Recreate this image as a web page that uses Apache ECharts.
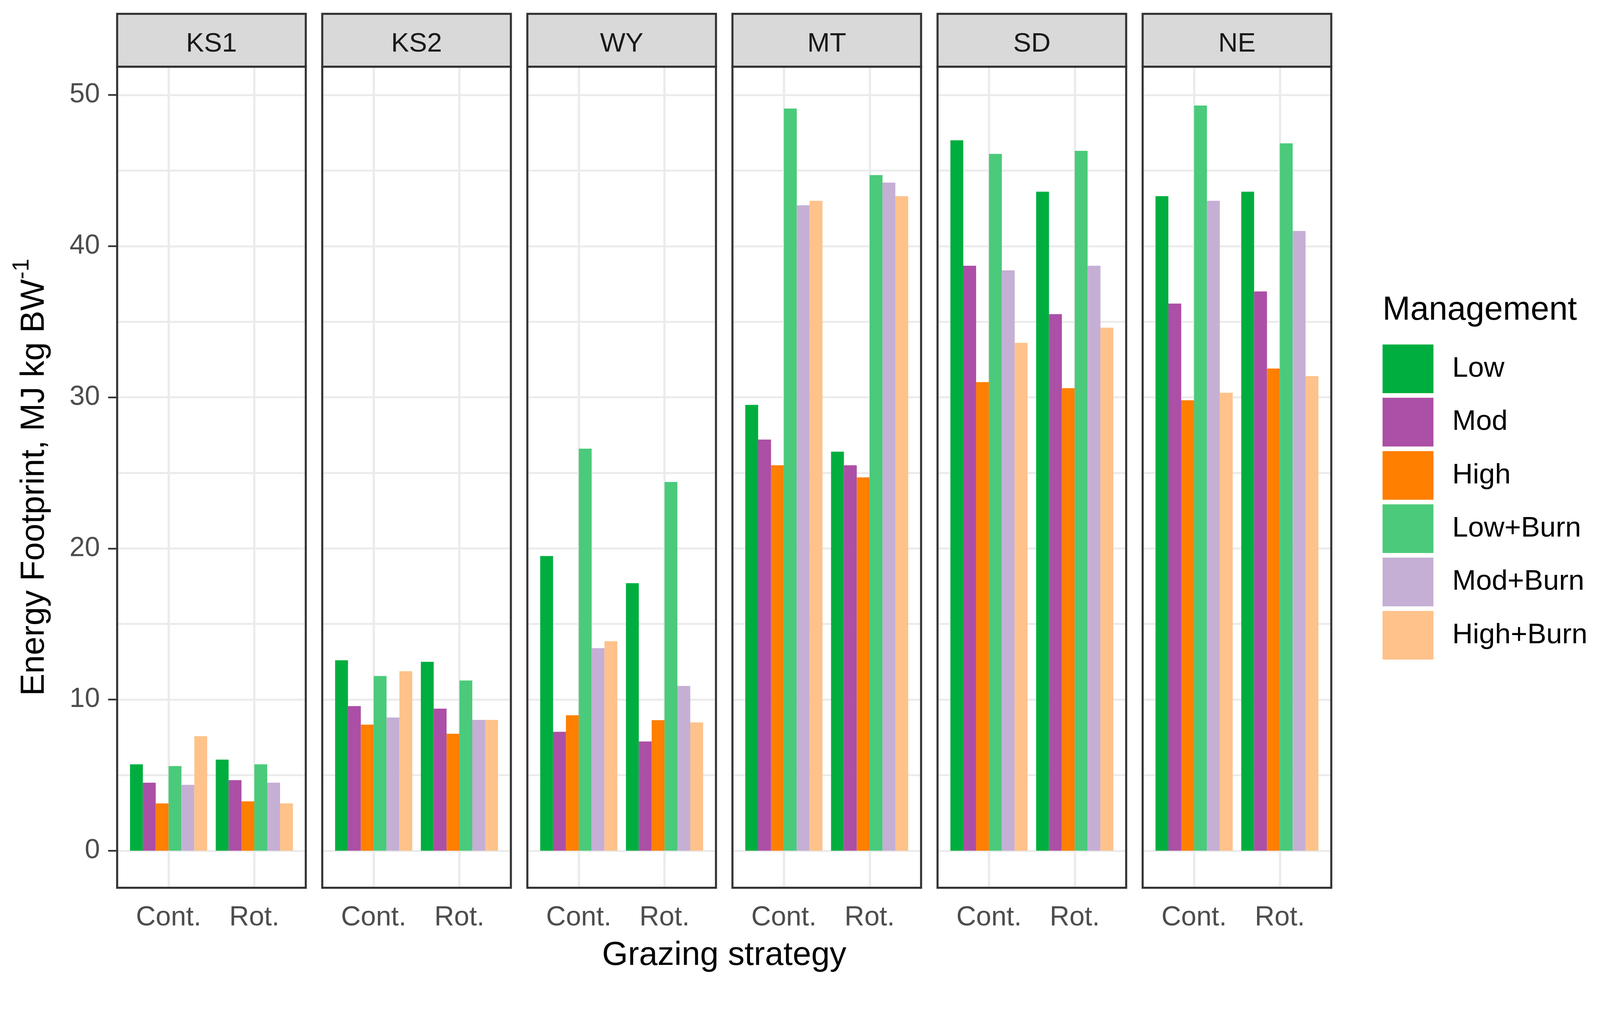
<!DOCTYPE html>
<html><head><meta charset="utf-8">
<script src="https://cdn.jsdelivr.net/npm/echarts@6/dist/echarts.min.js"></script>
<style>html,body{margin:0;padding:0;background:#fff;overflow:hidden}#c{width:100vw;height:100vh}</style>
</head><body><div id="c"></div>
<script>
// ---- data ----
const sites = ['KS1', 'KS2', 'WY', 'MT', 'SD', 'NE'];
const strategies = ['Cont.', 'Rot.'];
const managements = ['Low', 'Mod', 'High', 'Low+Burn', 'Mod+Burn', 'High+Burn'];
// values ordered: KS1 Cont, KS1 Rot, KS2 Cont, KS2 Rot, WY Cont, WY Rot, MT Cont, MT Rot, SD Cont, SD Rot, NE Cont, NE Rot
const lowValues      = [5.72, 6.03, 12.6, 12.5, 19.5, 17.7, 29.5, 26.4, 47.0, 43.6, 43.3, 43.6];
const modValues      = [4.50, 4.67, 9.57, 9.40, 7.87, 7.23, 27.2, 25.5, 38.7, 35.5, 36.2, 37.0];
const highValues     = [3.13, 3.27, 8.34, 7.74, 8.96, 8.64, 25.5, 24.7, 31.0, 30.6, 29.8, 31.9];
const lowBurnValues  = [5.60, 5.72, 11.56, 11.26, 26.6, 24.4, 49.1, 44.7, 46.1, 46.3, 49.3, 46.8];
const modBurnValues  = [4.36, 4.50, 8.81, 8.66, 13.4, 10.9, 42.7, 44.2, 38.4, 38.7, 43.0, 41.0];
const highBurnValues = [7.58, 3.13, 11.88, 8.66, 13.86, 8.49, 43.0, 43.3, 33.6, 34.6, 30.3, 31.4];
const yTicks = [0, 10, 20, 30, 40, 50];

const seriesValues = [lowValues, modValues, highValues, lowBurnValues, modBurnValues, highBurnValues];
const colors = ['#00AE3F', '#AC4FA6', '#FF7F00', '#4ACA7A', '#C5AFD5', '#FEC28A'];

// ---- layout (designed for a 4275 x 2633 canvas, scaled to the actual viewport) ----
const el = document.getElementById('c');
const W = el.clientWidth || window.innerWidth, H = el.clientHeight || window.innerHeight;
const S = Math.min(W / 4275, H / 2633);
const p = v => v * S;
const FONT = '"Liberation Sans", Arial, sans-serif';
const L = { left0: 313, step: 548, width: 504, stripTop: 37, panelTop: 178, panelBottom: 2371, y0: 2272, y50: 253.6 };
const pxPerUnit = (L.y0 - L.y50) / (yTicks[yTicks.length - 1] - yTicks[0]);
const yMinBar = -(L.panelBottom - L.y0) / pxPerUnit;
const yMaxBar = (L.y0 - L.panelTop) / pxPerUnit;
const pad = L.width * 0.1 / 2.2;

const grid = [], xAxis = [], yAxis = [], series = [], graphic = [];

sites.forEach((site, i) => {
  const left = L.left0 + i * L.step;
  const g0 = grid.length;
  // frame grid
  grid.push({ left: p(left), top: p(L.panelTop), width: p(L.width), height: p(L.panelBottom - L.panelTop),
    show: true, borderColor: '#333333', borderWidth: p(5.5), backgroundColor: 'transparent', z: 10 });
  xAxis.push({ gridIndex: g0, type: 'value', show: false });
  yAxis.push({ gridIndex: g0, type: 'value', show: false });
  // gridline grid
  const g1 = grid.length;
  grid.push({ left: p(left), top: p(L.y50), width: p(L.width), height: p(L.y0 - L.y50) });
  xAxis.push({ gridIndex: g1, type: 'value', show: false });
  yAxis.push({ gridIndex: g1, type: 'value', min: yTicks[0], max: yTicks[yTicks.length - 1], interval: yTicks[1] - yTicks[0],
    axisLine: { show: false },
    axisTick: { show: i === 0, length: p(24), lineStyle: { color: '#333333', width: p(4.5) } },
    axisLabel: { show: i === 0, color: '#4d4d4d', fontSize: p(73), fontFamily: FONT, margin: p(46) },
    splitLine: { show: true, lineStyle: { color: '#ebebeb', width: p(5) } },
    minorTick: { show: false, splitNumber: 2 },
    minorSplitLine: { show: true, lineStyle: { color: '#ebebeb', width: p(5) } } });
  // bar grid
  const g2 = grid.length;
  grid.push({ left: p(left + pad), top: p(L.panelTop), width: p(L.width - 2 * pad), height: p(L.panelBottom - L.panelTop) });
  xAxis.push({ gridIndex: g2, type: 'category', data: strategies,
    axisLine: { show: false },
    axisTick: { show: true, alignWithLabel: true, length: p(22), lineStyle: { color: '#333333', width: p(4.5) } },
    axisLabel: { color: '#4d4d4d', fontSize: p(73), fontFamily: FONT, margin: p(44) },
    splitLine: { show: false } });
  yAxis.push({ gridIndex: g2, type: 'value', min: yMinBar, max: yMaxBar, show: false, splitLine: { show: false } });

  // vertical major grid lines at the category centres
  series.push({ type: 'line', name: 'grid-' + site, xAxisIndex: g2, yAxisIndex: g2, data: [], silent: true, z: 1,
    markLine: { silent: true, symbol: ['none', 'none'], z: 1, label: { show: false }, animation: false,
      lineStyle: { color: '#ebebeb', width: p(6), type: 'solid' },
      data: strategies.map(st => ({ xAxis: st })) } });

  managements.forEach((m, k) => {
    series.push({
      type: 'bar', name: m, xAxisIndex: g2, yAxisIndex: g2,
      data: strategies.map((st, j) => seriesValues[k][i * 2 + j]),
      itemStyle: { color: colors[k] },
      barGap: '0%', barCategoryGap: '10%',
      emphasis: { disabled: true }, z: 2
    });
  });

  // strip
  graphic.push({ type: 'rect', z: 20, shape: { x: p(left), y: p(L.stripTop), width: p(L.width), height: p(L.panelTop - L.stripTop) },
    style: { fill: '#d9d9d9', stroke: '#333333', lineWidth: p(5.5) } });
  graphic.push({ type: 'text', z: 21, x: p(left + L.width / 2), y: p(118),
    style: { text: site, fill: '#1a1a1a', fontSize: p(72), fontFamily: FONT, align: 'center', verticalAlign: 'middle' } });
});

graphic.push({ type: 'text', x: p((L.left0 + 5 * L.step + L.width + L.left0) / 2), y: p(2552),
  style: { text: 'Grazing strategy', fill: '#000', fontSize: p(89), fontFamily: FONT, align: 'center', verticalAlign: 'middle' } });
graphic.push({ type: 'text', x: p(92), y: p((L.panelTop + L.panelBottom) / 2), rotation: Math.PI / 2,
  style: { text: '{m|Energy Footprint, MJ kg BW}{sup|-1}', fill: '#000', fontFamily: FONT, align: 'center', verticalAlign: 'middle',
    rich: { m: { fontSize: p(89), lineHeight: p(128), fontFamily: FONT, fill: '#000' },
            sup: { fontSize: p(62), lineHeight: p(62), verticalAlign: 'top', fontFamily: FONT, fill: '#000' } } } });
graphic.push({ type: 'text', x: p(3694), y: p(829),
  style: { text: 'Management', fill: '#000', fontSize: p(89), fontFamily: FONT, align: 'left', verticalAlign: 'middle' } });

const option = {
  animation: false,
  backgroundColor: '#ffffff',
  grid, xAxis, yAxis, series, graphic,
  legend: { data: managements, orient: 'vertical', left: p(3694), top: p(920), itemWidth: p(136), itemHeight: p(130), itemGap: p(12.3),
    icon: 'rect', selectedMode: false, padding: 0,
    textStyle: { fontSize: p(76), color: '#000', fontFamily: FONT, padding: [p(44), 0, 0, p(45)] } }
};
const chart = echarts.init(el, null, { renderer: 'canvas' });
chart.setOption(option);
</script></body></html>
